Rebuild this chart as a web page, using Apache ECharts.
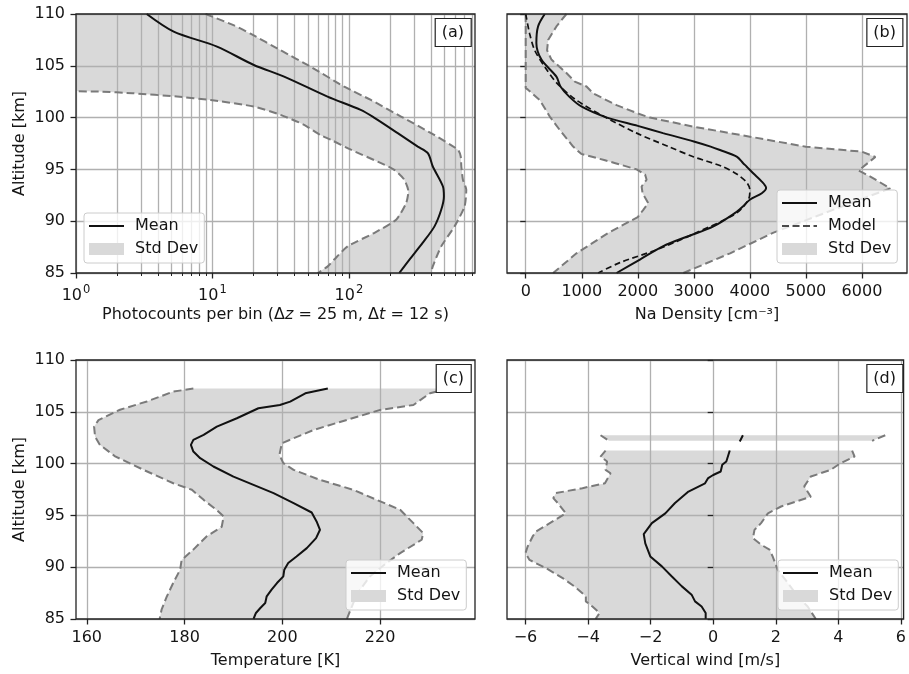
<!DOCTYPE html>
<html>
<head>
<meta charset="utf-8">
<script src="https://cdn.jsdelivr.net/npm/echarts@6/dist/echarts.min.js"></script>
<style>
  html, body { margin: 0; padding: 0; background: #fff; }
  #chart { width: 909px; height: 674px; }
</style>
</head>
<body>
<div id="chart"></div>
<script>
// ---------- (a) photocounts per bin ----------
const photoMeanAlt = [110, 108.3, 106.85, 105.08, 103.96, 102.03, 100.75, 100, 98.5, 97.2, 96.57, 95.28, 93.35, 92.39, 91.1, 89.5, 87.9, 86.3, 85];
const photoMean    = [3.3, 5.2, 10.8, 20.1, 33.5, 69.7, 122, 153, 228, 320, 379, 412, 489, 497, 475, 424, 347, 278, 234];
const photoUpAlt   = [110, 108.9, 108.1, 106.5, 104.9, 102.99, 101.7, 100.1, 98.5, 96.9, 96.25, 95.28, 94, 93.03, 91.43, 89.5, 87.57, 85.64, 85];
const photoUp      = [8.9, 14.4, 19, 31.6, 52.6, 92.4, 145, 241, 400, 630, 660, 667, 685, 725, 705, 595, 475, 412, 400];
const photoLoAlt   = [110, 102.7, 102.51, 102.35, 102.03, 101.7, 101.07, 100.26, 99.3, 98.3, 97.85, 96.9, 95.6, 94.96, 94, 92.87, 91.75, 90.14, 88.86, 87.57, 86.3, 85.64, 85];
const photoLo      = [0.2, 0.4, 1.5, 2.6, 5.5, 9.7, 20, 31.6, 47, 62, 74, 103.5, 172, 215, 255, 273, 263, 222, 153, 98, 78, 70, 59];
const photoMajorTicks = [1, 10, 100];
const photoMinorTicks = [2, 3, 4, 5, 6, 7, 8, 9, 20, 30, 40, 50, 60, 70, 80, 90, 200, 300, 400, 500, 600, 700, 800];

// ---------- (b) Na density ----------
const naMeanAlt = [110, 108.8, 107.2, 105.6, 103.96, 103, 102, 101.05, 100, 99.2, 98.5, 97.7, 97.2, 96.87, 96.23, 95.6, 95.26, 94.6, 93.9, 93.2, 92.7, 92.1, 91.4, 90.8, 89.5, 88.5, 87.6, 86.3, 85];
const naMean    = [340, 220, 190, 280, 548, 620, 780, 1000, 1450, 2000, 2450, 3000, 3300, 3467, 3765, 3880, 3944, 4064, 4200, 4290, 4213, 4005, 3870, 3737, 3350, 2873, 2455, 2038, 1621];
const naModelAlt = [110, 108.1, 106.5, 104.9, 103.3, 101.7, 100.1, 98.5, 97.2, 96.2, 95.3, 94.5, 93.7, 93, 92.1, 90.8, 88.9, 87.25, 86, 85];
const naModel    = [0, 70, 160, 340, 560, 900, 1400, 1980, 2550, 3000, 3500, 3780, 3950, 4000, 3975, 3766, 3051, 2336, 1680, 1293];
const naUpAlt = [110, 108.8, 107.5, 106.5, 105.6, 104.3, 103.47, 103, 102.34, 101.2, 100.4, 100, 99.12, 98.16, 97.19, 96.71, 96.2, 94.9, 94.3, 93.17, 92.1, 90.5, 88.9, 86.9, 85];
const naUp    = [727, 548, 400, 381, 459, 727, 876, 1085, 1203, 1621, 2000, 2216, 3000, 4000, 5000, 6000, 6240, 5940, 6150, 6506, 5972, 5197, 4422, 3647, 2813];
const naLoAlt = [110, 102.85, 102.7, 101.7, 100.1, 98.8, 97.2, 96.5, 95.9, 95.6, 95, 94.5, 94, 93.35, 92.7, 91.75, 91.1, 90.4, 88.86, 86.9, 85];
const naLo    = [0, 0, 40, 250, 429, 608, 846, 990, 1400, 1600, 1980, 2130, 2157, 2068, 2085, 2187, 2098, 2000, 1470, 906, 489];
const naTicks = [0, 1000, 2000, 3000, 4000, 5000, 6000];

// ---------- (c) temperature ----------
const tMeanAlt = [107.24, 106.79, 105.98, 105.66, 105.34, 104.38, 103.57, 102.77, 102.29, 101.81, 101.16, 100.52, 99.72, 98.75, 97.95, 97.15, 96.18, 95.28, 94.42, 93.61, 92.81, 91.84, 91.04, 90.4, 89.76, 89.11, 88.47, 87.83, 87.19, 86.54, 86.06, 85.58, 85];
const tMean    = [209.3, 204.7, 201.6, 199.5, 195.1, 190.7, 186.6, 183.9, 181.8, 181.3, 181.8, 183.2, 185.9, 190, 194.1, 198.2, 202.3, 206, 207, 207.7, 206.9, 205, 202.9, 201.2, 200.4, 200.2, 198.9, 197.8, 196.8, 196.5, 195.5, 194.6, 194.1];
const tUpAlt = [107.24, 106.79, 105.66, 105.18, 104.22, 103.25, 101.97, 100.84, 100.04, 99.4, 98.43, 97.47, 96.5, 95.54, 95.06, 94.25, 93.29, 92.65, 91.36, 90.4, 89.11, 87.83, 86.54, 85];
const tUp    = [234, 230.2, 226.8, 220, 213.2, 206.4, 199.9, 199.4, 200.2, 202.3, 207.7, 214.5, 219.3, 224.1, 225.1, 226.8, 228.8, 228.5, 224.1, 221.3, 217.9, 215.9, 214.5, 213.2];
const tLoAlt = [107.24, 106.95, 106, 105.2, 104.2, 103.57, 102.6, 101.8, 100.7, 99.4, 98.1, 97.47, 96.5, 95.5, 94.9, 93.9, 92.97, 91.7, 90.7, 89.76, 88.5, 87.2, 85.9, 85];
const tLo    = [181.8, 177.7, 172.3, 166.8, 162.4, 161.5, 161.7, 162.7, 165.8, 171.6, 177.7, 181.5, 183.9, 186.6, 188, 187.6, 184.5, 181.8, 179.4, 179.1, 177.7, 176.4, 175.3, 174.9];
const tTicks = [160, 180, 200, 220];

// ---------- (d) vertical wind (null marks a gap in the profile) ----------
const wMeanAlt = [102.74, 102.13, 101.7, 101.26, 100.2, 99.88, 99.24, 98.9, 98.6, 98.1, 97.3, 96.2, 95.2, 94.25, 93.2, 92.3, 91.04, 90.08, 89.1, 88.15, 87.35, 86.7, 86.2, 85.58, 85];
const wMean    = [0.95, 0.85, null, 0.53, 0.42, 0.29, 0.24, 0, -0.16, -0.26, -0.79, -1.22, -1.53, -1.96, -2.22, -2.17, -2.01, -1.64, -1.32, -1.0, -0.69, -0.58, -0.37, -0.24, -0.24];
const wUpAlt = [102.74, 102.2, 101.7, 101.26, 100.68, 100.04, 99.4, 98.75, 97.8, 96.8, 95.86, 95.2, 94.25, 93.6, 92.8, 92.17, 91.7, 91.04, 89.76, 88.5, 87.2, 86.2, 85];
const wUp    = [5.5, 5.08, null, 4.44, 4.52, 4.07, 3.76, 3.12, 2.91, 3.12, 2.17, 1.75, 1.53, 1.32, 1.27, 1.53, 1.8, 1.9, 2.06, 2.38, 2.7, 3.02, 3.28];
const wLoAlt = [102.74, 102.2, 101.7, 101.26, 100.68, 100.2, 99.4, 99.07, 98.1, 97.63, 97.15, 96.67, 96.2, 95.2, 94.6, 93.45, 92.97, 92.0, 91.36, 90.7, 89.9, 88.95, 88.15, 87.2, 86.7, 86.2, 85.58, 85];
const wLo    = [-3.6, -3.33, null, -3.44, -3.6, -3.39, -3.44, -3.28, -3.46, -4.18, -5.03, -5.11, -4.97, -4.71, -5.03, -5.66, -5.77, -5.93, -6.0, -5.87, -5.34, -4.81, -4.44, -4.07, -4.07, -3.86, -3.63, -3.76];
const wTicks = [-6, -4, -2, 0, 2, 4, 6];

const altMin = 85, altMax = 110;

// ---------- styling ----------
const FONT = 'DejaVu Sans';
const FS = 16;
const TXT = '#151515';
const SPINE = '#222';
const GRIDC = '#b0b0b0';
const FILL = '#d9d9d9';
const STD = '#7a7a7a';

const gridBoxes = [
  { left: 76,  top: 14,  width: 399, height: 259 },
  { left: 507, top: 14,  width: 400, height: 259 },
  { left: 76,  top: 360, width: 399, height: 259 },
  { left: 507, top: 360, width: 400, height: 259 }
];

const minusFmt = v => (v < 0 ? '\u2212' : '') + Math.abs(v);

function pairs(xs, alts) {
  return xs.map((v, i) => (v === null ? ['-', '-'] : [v, alts[i]]));
}
function segments(xs, alts) {
  const out = [];
  let cur = [];
  xs.forEach((v, i) => {
    if (v === null) { if (cur.length) out.push(cur); cur = []; }
    else cur.push([v, alts[i]]);
  });
  if (cur.length) out.push(cur);
  return out;
}

// shaded band between the lower and upper bounds, one polygon per contiguous stretch
function bandSeries(axisIdx, lo, loAlt, up, upAlt) {
  const loSeg = segments(lo, loAlt);
  const upSeg = segments(up, upAlt);
  return {
    type: 'custom', name: 'Std Dev',
    xAxisIndex: axisIdx.x, yAxisIndex: axisIdx.y,
    clip: true, silent: true, z: 1,
    itemStyle: { color: FILL },
    data: loSeg.map((s, i) => [i]),
    renderItem(params, api) {
      const k = params.dataIndex;
      const pts = loSeg[k].map(p => api.coord(p))
        .concat(upSeg[k].slice().reverse().map(p => api.coord(p)));
      return { type: 'polygon', shape: { points: pts }, style: { fill: FILL } };
    }
  };
}
function lineSeries(name, axisIdx, xs, alts, style, smooth) {
  return {
    type: 'line', name: name,
    xAxisIndex: axisIdx.x, yAxisIndex: axisIdx.y,
    data: pairs(xs, alts), symbol: 'none', showSymbol: false,
    smooth: smooth || false,
    connectNulls: false, clip: true, silent: true, z: 3,
    lineStyle: style,
    itemStyle: { color: style.color }
  };
}
const meanStyle = { color: '#111', width: 2, type: 'solid' };
const stdStyle = { color: STD, width: 2, type: [8, 4] };
const modelStyle = { color: '#111', width: 1.7, type: [6, 3.5] };

const grids = gridBoxes.map(g => Object.assign({
  show: true, borderColor: SPINE, borderWidth: 1.3,
  backgroundColor: 'transparent', z: 4
}, g));

const yAxes = gridBoxes.map((g, i) => ({
  type: 'value', gridIndex: i, min: altMin, max: altMax, interval: 5, z: 2,
  axisLine: { show: false },
  axisTick: { show: true, inside: false, length: 5.5, lineStyle: { color: SPINE, width: 1.3 } },
  axisLabel: { show: i % 2 === 0, margin: 11, fontFamily: FONT, fontSize: FS, color: TXT },
  splitLine: { show: true, lineStyle: { color: GRIDC, width: 1.3 } },
  name: i % 2 === 0 ? 'Altitude [km]' : '',
  nameLocation: 'middle', nameGap: 48,
  nameTextStyle: { fontFamily: FONT, fontSize: FS, color: TXT }
}));

const commonX = {
  z: 2,
  axisLine: { show: false },
  nameLocation: 'middle', nameGap: 34,
  nameTextStyle: { fontFamily: FONT, fontSize: FS, color: TXT }
};
const tickStyle = { show: true, inside: false, length: 5.5, lineStyle: { color: SPINE, width: 1.3 } };
const labelStyle = { margin: 11, fontFamily: FONT, fontSize: FS, color: TXT };
const splitStyle = { show: true, lineStyle: { color: GRIDC, width: 1.3 } };

const xAxes = [
  Object.assign({}, commonX, {
    type: 'log', logBase: 10, gridIndex: 0, min: 1, max: 840,
    axisTick: Object.assign({ customValues: photoMajorTicks }, tickStyle),
    axisLabel: Object.assign({}, labelStyle, {
      customValues: photoMajorTicks,
      formatter: v => '{b|10}{s|' + Math.round(Math.log10(v)) + '}',
      rich: {
        b: { fontFamily: FONT, fontSize: FS, color: TXT, lineHeight: 20, verticalAlign: 'bottom' },
        s: { fontFamily: FONT, fontSize: 11.5, color: TXT, lineHeight: 20, verticalAlign: 'top', padding: [0, 0, 0, 1] }
      }
    }),
    splitLine: splitStyle,
    name: '{n|Photocounts per bin (\u0394}{i|z}{n| = 25 m, \u0394}{i|t}{n| = 12 s)}',
    nameTextStyle: { fontFamily: FONT, fontSize: FS, color: TXT,
      rich: { n: { fontFamily: FONT, fontSize: FS, color: TXT },
              i: { fontFamily: FONT, fontSize: FS, color: TXT, fontStyle: 'italic' } } }
  }),
  Object.assign({}, commonX, {
    type: 'value', gridIndex: 1, min: -334, max: 6804,
    axisTick: Object.assign({ customValues: naTicks }, tickStyle),
    axisLabel: Object.assign({ customValues: naTicks, formatter: v => String(v) }, labelStyle),
    splitLine: splitStyle,
    name: 'Na Density [cm\u207b\u00b3]'
  }),
  Object.assign({}, commonX, {
    type: 'value', gridIndex: 2, min: 157.8, max: 239.4,
    axisTick: Object.assign({ customValues: tTicks }, tickStyle),
    axisLabel: Object.assign({ customValues: tTicks, formatter: v => String(v) }, labelStyle),
    splitLine: splitStyle,
    name: 'Temperature [K]'
  }),
  Object.assign({}, commonX, {
    type: 'value', gridIndex: 3, min: -6.59, max: 6.086,
    axisTick: Object.assign({ customValues: wTicks }, tickStyle),
    axisLabel: Object.assign({ customValues: wTicks, formatter: minusFmt }, labelStyle),
    splitLine: splitStyle,
    name: 'Vertical wind [m/s]'
  }),
  // minor decades of the log axis in panel (a)
  Object.assign({}, commonX, {
    type: 'log', logBase: 10, gridIndex: 0, min: 1, max: 840, position: 'bottom',
    axisTick: Object.assign({}, tickStyle, { customValues: photoMinorTicks, length: 3, lineStyle: { color: SPINE, width: 1 } }),
    axisLabel: { show: false },
    splitLine: splitStyle,
    name: ''
  })
];

const A = { x: 0, y: 0 }, B = { x: 1, y: 1 }, C = { x: 2, y: 2 }, D = { x: 3, y: 3 };

const series = [
  bandSeries(A, photoLo, photoLoAlt, photoUp, photoUpAlt),
  lineSeries('Std Dev upper', A, photoUp, photoUpAlt, stdStyle, 0.2),
  lineSeries('Std Dev lower', A, photoLo, photoLoAlt, stdStyle, 0.2),
  lineSeries('Mean', A, photoMean, photoMeanAlt, meanStyle, 0.3),

  bandSeries(B, naLo, naLoAlt, naUp, naUpAlt),
  lineSeries('Std Dev upper', B, naUp, naUpAlt, stdStyle),
  lineSeries('Std Dev lower', B, naLo, naLoAlt, stdStyle),
  lineSeries('Model', B, naModel, naModelAlt, modelStyle, 0.3),
  lineSeries('Mean', B, naMean, naMeanAlt, meanStyle, 0.3),

  bandSeries(C, tLo, tLoAlt, tUp, tUpAlt),
  lineSeries('Std Dev upper', C, tUp, tUpAlt, stdStyle),
  lineSeries('Std Dev lower', C, tLo, tLoAlt, stdStyle),
  lineSeries('Mean', C, tMean, tMeanAlt, meanStyle),

  bandSeries(D, wLo, wLoAlt, wUp, wUpAlt),
  lineSeries('Std Dev upper', D, wUp, wUpAlt, stdStyle),
  lineSeries('Std Dev lower', D, wLo, wLoAlt, stdStyle),
  lineSeries('Mean', D, wMean, wMeanAlt, meanStyle)
];

// legend glyphs: solid line, dashed line, filled patch
const legendIcons = {
  'Mean': 'path://M0,0h35v2h-35z',
  'Model': 'path://M0,0h7v1.7h-7z M10.5,0h7v1.7h-7z M21,0h7v1.7h-7z M31.5,0h3.5v1.7h-3.5z',
  'Std Dev': 'rect'
};
function legendAt(left, top, names) {
  return {
    left: left, top: top, orient: 'vertical', z: 8, selectedMode: false,
    backgroundColor: 'rgba(255,255,255,0.8)', borderColor: '#cccccc', borderWidth: 1, borderRadius: 3,
    padding: [4, 6, 5, 5], itemWidth: 35, itemHeight: 12, itemGap: 5,
    symbolKeepAspect: true,
    textStyle: { fontFamily: FONT, fontSize: FS, color: TXT, lineHeight: 18, padding: [0, 0, 0, 6] },
    data: names.map(n => ({ name: n, icon: legendIcons[n] }))
  };
}
const legends = [
  legendAt(84, 213, ['Mean', 'Std Dev']),
  legendAt(777, 190, ['Mean', 'Model', 'Std Dev']),
  legendAt(346, 560, ['Mean', 'Std Dev']),
  legendAt(778, 560, ['Mean', 'Std Dev'])
];

function panelTag(text, right, top) {
  return {
    text: text, right: right, top: top, z: 8,
    padding: [5, 7], borderColor: SPINE, borderWidth: 1.2, backgroundColor: '#fff',
    textStyle: { fontFamily: FONT, fontSize: FS, fontWeight: 'normal', color: TXT, lineHeight: 19 }
  };
}
const titles = [
  panelTag('(a)', 438, 18),
  panelTag('(b)', 6, 18),
  panelTag('(c)', 438, 364),
  panelTag('(d)', 6, 364)
];

const chart = echarts.init(document.getElementById('chart'), null, { renderer: 'canvas' });
chart.setOption({
  animation: false,
  backgroundColor: '#fff',
  textStyle: { fontFamily: FONT },
  title: titles,
  legend: legends,
  grid: grids,
  xAxis: xAxes,
  yAxis: yAxes,
  series: series
});
</script>
</body>
</html>
